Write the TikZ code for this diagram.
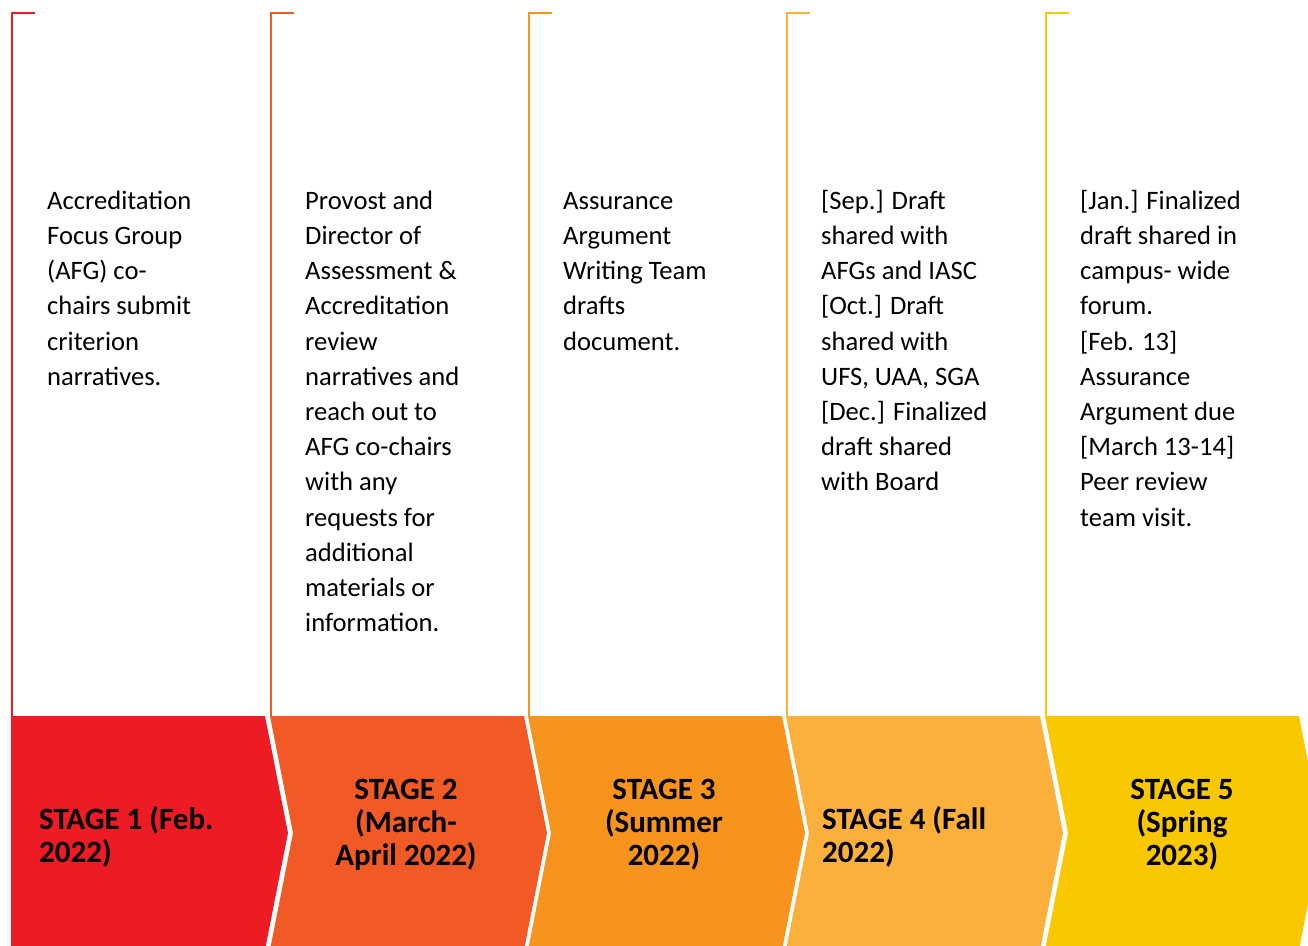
\documentclass[tikz,border=0pt]{standalone}
\usepackage{fontspec}
\setmainfont{Carlito}
\definecolor{cA}{HTML}{ED1C24}
\definecolor{cB}{HTML}{F15A24}
\definecolor{cC}{HTML}{F7941D}
\definecolor{cD}{HTML}{FBB03B}
\definecolor{cE}{HTML}{F9C800}
\begin{document}
\begin{tikzpicture}[x=1pt,y=-1pt,
  bodytext/.style={anchor=north west,inner sep=0pt,align=left,font=\fontsize{26.6}{35.2}\selectfont},
  stagetext/.style={inner sep=0pt,font=\fontsize{31}{33}\selectfont\bfseries},
  bracket/.style={line width=2.2pt}]
\useasboundingbox (0,0) rectangle (1308,945);
\clip (0,0) rectangle (1308,945);
% chevrons
\def\T{716}\def\M{833}\def\B{950}
\fill[cA] (11,\T) -- (265,\T) -- (288,\M) -- (265,\B) -- (11,\B) -- cycle;
\fill[cB] (270,\T) -- (524,\T) -- (547,\M) -- (524,\B) -- (270,\B) -- (293,\M) -- cycle;
\fill[cC] (528,\T) -- (782,\T) -- (805,\M) -- (782,\B) -- (528,\B) -- (551,\M) -- cycle;
\fill[cD] (786,\T) -- (1040,\T) -- (1063,\M) -- (1040,\B) -- (786,\B) -- (809,\M) -- cycle;
\fill[cE] (1045,\T) -- (1299,\T) -- (1322,\M) -- (1299,\B) -- (1045,\B) -- (1068,\M) -- cycle;
% brackets
\draw[bracket,cA] (12,\T) -- (12,13) -- (35,13);
\draw[bracket,cB] (271,\T) -- (271,13) -- (294,13);
\draw[bracket,cC] (529,\T) -- (529,13) -- (552,13);
\draw[bracket,cD] (787,\T) -- (787,13) -- (810,13);
\draw[bracket,cE] (1046,\T) -- (1046,13) -- (1069,13);
% body text
\node[bodytext] (t1) at (47,184.4) {\strut Accreditation\\Focus Group\\(AFG) co-\\chairs submit\\criterion\\narratives.};
\node[bodytext] (t2) at (305,184.4) {\strut Provost and\\Director of\\Assessment \&\\Accreditation\\review\\narratives and\\reach out to\\AFG co-chairs\\with any\\requests for\\additional\\materials or\\information.};
\node[bodytext] (t3) at (563,184.4) {\strut Assurance\\Argument\\Writing Team\\drafts\\document.};
\node[bodytext] (t4) at (821,184.4) {\strut{[Sep.]} Draft\\shared with\\AFGs and IASC\\{[Oct.]} Draft\\shared with\\UFS, UAA, SGA\\{[Dec.]} Finalized\\draft shared\\with Board};
\node[bodytext] (t5) at (1080,184.4) {\strut{[Jan.]} Finalized\\draft shared in\\campus- wide\\forum.\\{[Feb. 13]}\\Assurance\\Argument due\\{[March 13-14]}\\Peer review\\team visit.};
% stage labels
\node[stagetext,align=left,anchor=west] (s1) at (39,837) {STAGE 1 (Feb.\\2022)};
\node[stagetext,align=center] (s2) at (406,825) {STAGE 2\\(March-\\April 2022)};
\node[stagetext,align=center] (s3) at (664,825) {STAGE 3\\(Summer\\2022)};
\node[stagetext,align=left,anchor=west] (s4) at (822,837) {STAGE 4 (Fall\\2022)};
\node[stagetext,align=center] (s5) at (1182,825) {STAGE 5\\(Spring\\2023)};
\end{tikzpicture}
\end{document}
